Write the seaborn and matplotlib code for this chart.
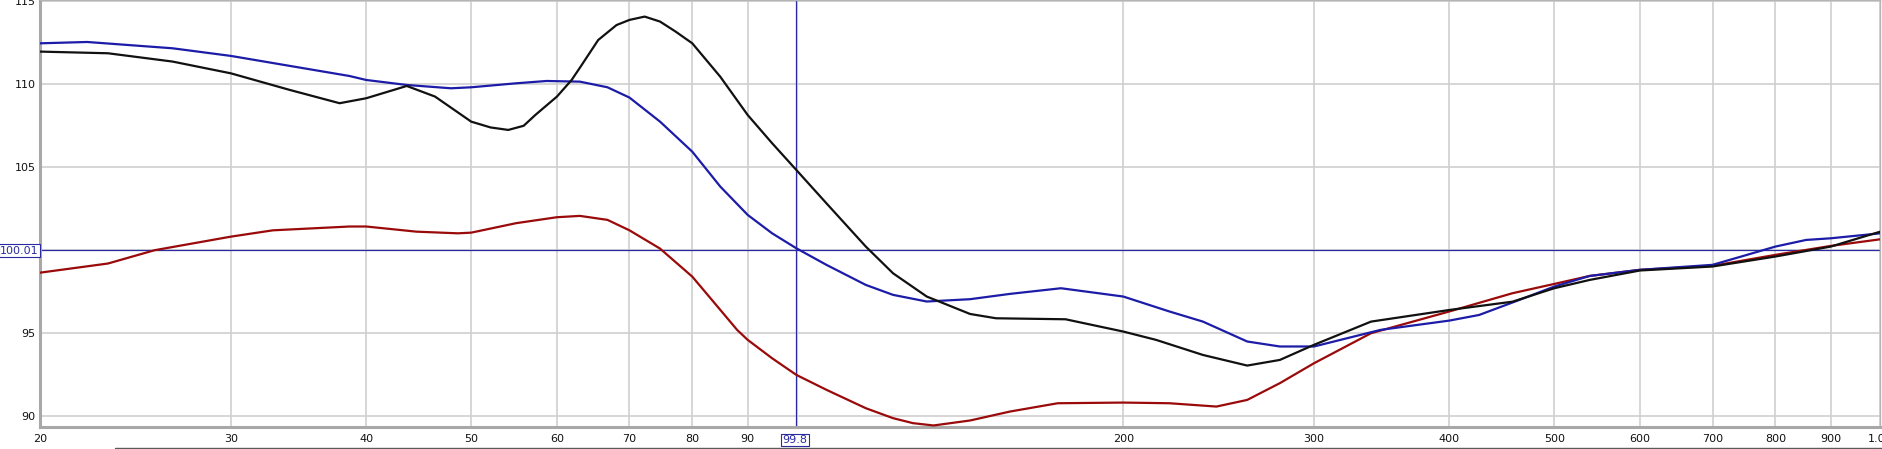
import numpy as np
import pandas as pd
import matplotlib
matplotlib.use("Agg")
import matplotlib.pyplot as plt
from matplotlib.lines import Line2D
import seaborn as sns

# ---- data ----
blue_freq = [20, 22.1, 26.5, 30, 38.6, 40, 43.6, 47.9, 50, 55, 58.7, 63, 66.8, 70, 74.7, 80,
             84.9, 90, 94.8, 99.8, 106.4, 115.7, 122.6, 131.7, 144.4, 157.2, 175.2, 200, 220.6,
             236.9, 260.3, 279, 300, 345.6, 400, 426.2, 464, 500, 539, 600, 700, 744, 800, 854,
             900, 1000]
blue_db = [112.47, 112.55, 112.17, 111.71, 110.5, 110.26, 109.96, 109.76, 109.82, 110.06, 110.2,
           110.16, 109.82, 109.2, 107.75, 105.94, 103.84, 102.13, 101.02, 100.12, 99.12,
           97.91, 97.31, 96.91, 97.05, 97.37, 97.71, 97.21, 96.31, 95.7, 94.5, 94.2, 94.2, 95.2,
           95.76, 96.1, 97.0, 97.81, 98.45, 98.82, 99.12, 99.62, 100.22, 100.62, 100.72, 101.02]

black_freq = [20, 23.1, 26.5, 30, 34.0, 37.8, 40, 43.6, 46.3, 50, 52.1, 54.1, 55.9, 57.3, 60, 61.9,
              63.0, 65.5, 68.1, 70, 72.3, 74.7, 77.2, 80, 84.9, 90, 94.8, 99.8, 106.4, 115.7,
              122.6, 131.7, 144.4, 152.6, 176.9, 200, 214.4, 236.9, 260.3, 279, 300, 338.7, 400,
              457.5, 500, 539, 600, 700, 800, 900, 1000]
black_db = [111.97, 111.87, 111.37, 110.66, 109.66, 108.86, 109.16, 109.9, 109.26, 107.75, 107.4,
            107.25, 107.5, 108.15, 109.26, 110.26, 111.0, 112.67, 113.57, 113.88, 114.08, 113.78,
            113.18, 112.47, 110.46, 108.15, 106.45, 104.84, 102.83, 100.22, 98.61, 97.21, 96.16,
            95.9, 95.84, 95.1, 94.6, 93.69, 93.05, 93.39, 94.3, 95.7, 96.4, 96.9, 97.71, 98.21,
            98.78, 99.02, 99.62, 100.22, 101.12]

red_freq = [20, 23.1, 25.5, 30, 32.8, 38.6, 40, 44.5, 48.6, 50, 55, 60, 63, 66.8, 70, 74.7, 80,
            84.9, 88, 90, 94.8, 99.8, 106.4, 115.7, 122.6, 127.9, 133.6, 144.4, 157.2, 174.0,
            200, 220.6, 243.8, 260.3, 279, 300, 338.7, 400, 457.5, 500, 539, 600, 700, 800, 900,
            1000]
red_db = [98.65, 99.2, 100.0, 100.82, 101.2, 101.43, 101.43, 101.12, 101.02, 101.06, 101.63,
          101.99, 102.07, 101.83, 101.2, 100.1, 98.41, 96.41, 95.2, 94.6, 93.49, 92.49, 91.59,
          90.48, 89.88, 89.58, 89.44, 89.74, 90.28, 90.78, 90.82, 90.78, 90.58, 90.98, 91.99,
          93.19, 95.0, 96.31, 97.41, 97.97, 98.45, 98.82, 99.06, 99.72, 100.26, 100.66]

x_ticks = [20, 30, 40, 50, 60, 70, 80, 90, 100, 200, 300, 400, 500, 600, 700, 800, 900, 1000]
x_labels = ["20", "30", "40", "50", "60", "70", "80", "90", "", "200", "300", "400", "500",
            "600", "700", "800", "900", "1.0k"]
y_ticks = [90, 95, 100, 105, 110, 115]
y_labels = ["90", "95", "", "105", "110", "115"]

cursor_x = 99.8
cursor_y = 100.01

series_names = ["red", "blue", "black"]
series_colors = {"red": "#9a0a0a", "blue": "#1c1ca8", "black": "#111111"}

df = pd.concat([
    pd.DataFrame({"freq": red_freq, "spl": red_db, "series": "red"}),
    pd.DataFrame({"freq": blue_freq, "spl": blue_db, "series": "blue"}),
    pd.DataFrame({"freq": black_freq, "spl": black_db, "series": "black"}),
], ignore_index=True)

# ---- figure ----
sns.set_style("white")
plt.rcParams["font.family"] = ["DejaVu Sans"]

W, H = 1882, 449
fig = plt.figure(figsize=(W / 100, H / 100), dpi=100)
ax = fig.add_axes([40.2 / W, 1 - 427.3 / H, (1880.3 - 40.2) / W, 427.3 / H])

ax.set_xscale("log")
sns.lineplot(data=df, x="freq", y="spl", hue="series", hue_order=series_names,
             palette=series_colors, estimator=None, sort=True, linewidth=1.6,
             legend=False, ax=ax, zorder=3)

ax.set_xlim(20, 1000)
ax.set_ylim(89.33, 115.08)

ax.set_xticks(x_ticks)
ax.set_xticklabels(x_labels)
ax.xaxis.set_minor_locator(matplotlib.ticker.NullLocator())
ax.set_yticks(y_ticks)
ax.set_yticklabels(y_labels)
ax.tick_params(axis="x", length=0, pad=5, labelsize=8, colors="#111111")
ax.tick_params(axis="y", length=0, pad=3.5, labelsize=8, colors="#111111")
ax.set_xlabel("")
ax.set_ylabel("")

ax.grid(True, which="major", color="#cfcfcf", linewidth=1.2, zorder=0)
ax.set_axisbelow(True)

for side, sp in ax.spines.items():
    sp.set_visible(True)
    sp.set_color("#b4b4b4")
    sp.set_linewidth(1.0)
ax.spines["left"].set_linewidth(2.2)
ax.spines["left"].set_color("#a8a8a8")
ax.spines["bottom"].set_linewidth(2.2)
ax.spines["bottom"].set_color("#a8a8a8")

# cursor lines
cur_col = "#2a2aa0"
ax.axvline(cursor_x, color=cur_col, linewidth=0.9, zorder=2)
ax.axhline(cursor_y, color=cur_col, linewidth=0.9, zorder=2)

# cursor value boxes
fig.text(19.5 / W, 1 - 250.5 / H, "100.01", ha="center", va="center", fontsize=8,
         color=cur_col, bbox=dict(boxstyle="square,pad=0.12", fc="white", ec=cur_col, lw=0.8))
fig.text(795 / W, 1 - 440 / H, "99.8", ha="center", va="center", fontsize=8,
         color=cur_col, bbox=dict(boxstyle="square,pad=0.12", fc="white", ec=cur_col, lw=0.8))

# bottom scrollbar edge
fig.add_artist(Line2D([115 / W, 1.0], [1 - 447.6 / H, 1 - 447.6 / H], color="#5a5a5a",
                      linewidth=1.0, transform=fig.transFigure))

fig.savefig("out.png", dpi=100, facecolor="white")
